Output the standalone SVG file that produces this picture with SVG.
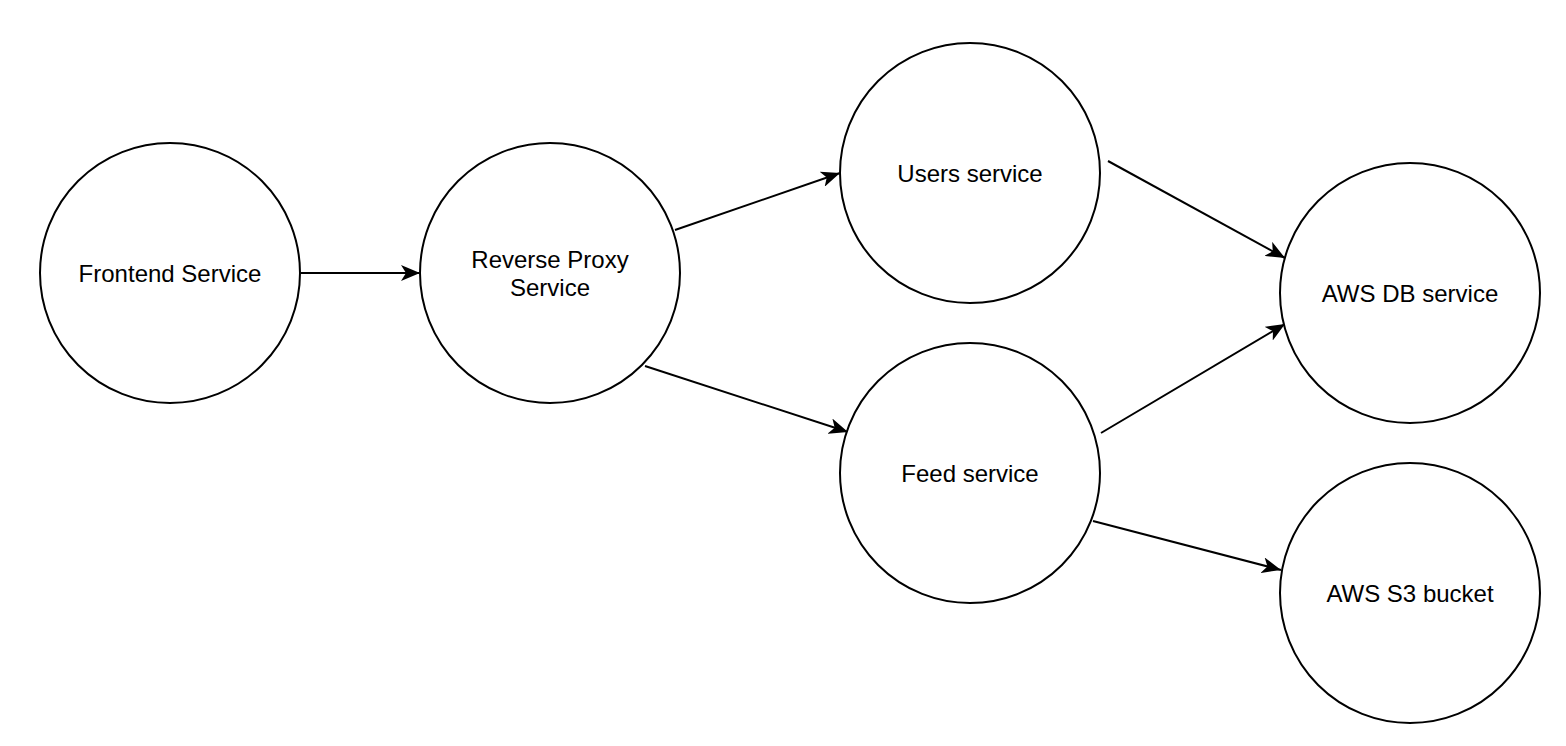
<svg xmlns="http://www.w3.org/2000/svg" width="1566" height="746" viewBox="0 0 1566 746">
<style>
.n{fill:#fff;stroke:#000;stroke-width:2}
.t{font-family:"Liberation Sans",Arial,sans-serif;font-size:24px;fill:#000;text-anchor:middle}
.e{stroke:#000;stroke-width:2;fill:none;marker-end:url(#a)}
</style>
<defs>
<marker id="a" markerUnits="userSpaceOnUse" viewBox="0 0 20 16" refX="19" refY="8" markerWidth="20" markerHeight="16" orient="auto">
<path d="M0,0 L19,8 L0,16 L5,8 Z" fill="#000"/>
</marker>
</defs>
<rect width="1566" height="746" fill="#fff"/>
<g id="edges">
<path class="e" d="M301,273 L420,273"/>
<path class="e" d="M675,230 L840,173"/>
<path class="e" d="M645,366 L848,432"/>
<path class="e" d="M1108,161 L1285,258"/>
<path class="e" d="M1101,433 L1285,324"/>
<path class="e" d="M1093,521 L1281,570"/>
</g>
<g id="frontend"><circle class="n" cx="170" cy="273" r="130"/><text class="t" x="170" y="282">Frontend Service</text></g>
<g id="proxy"><circle class="n" cx="550" cy="273" r="130"/><text class="t" x="550" y="268">Reverse Proxy</text><text class="t" x="550" y="296">Service</text></g>
<g id="users"><circle class="n" cx="970" cy="173" r="130"/><text class="t" x="970" y="182">Users service</text></g>
<g id="feed"><circle class="n" cx="970" cy="473" r="130"/><text class="t" x="970" y="482">Feed service</text></g>
<g id="awsdb"><circle class="n" cx="1410" cy="293" r="130"/><text class="t" x="1410" y="302">AWS DB service</text></g>
<g id="awss3"><circle class="n" cx="1410" cy="593" r="130"/><text class="t" x="1410" y="602">AWS S3 bucket</text></g>
</svg>
